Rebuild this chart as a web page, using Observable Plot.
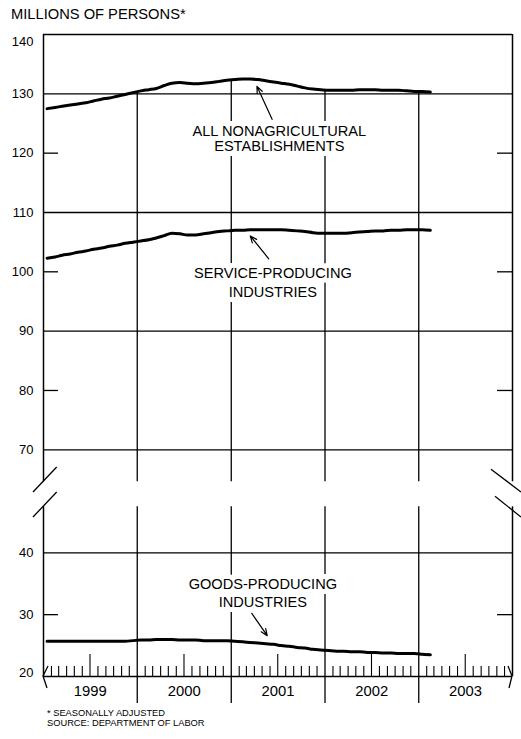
<!DOCTYPE html>
<html><head><meta charset="utf-8">
<script src="https://cdn.jsdelivr.net/npm/d3@7"></script>
<script src="https://cdn.jsdelivr.net/npm/@observablehq/plot@0.6"></script>
<style>
body{margin:0;background:#fff;}
#wrap{position:relative;width:521px;height:739px;font-family:"Liberation Sans",Arial,sans-serif;color:#000;overflow:hidden;}
#title{position:absolute;left:11px;top:7px;font-size:14.7px;line-height:14px;white-space:nowrap;}
#chart{position:absolute;left:0;top:28px;}
#cap{position:absolute;left:47px;top:708px;font-size:9.3px;line-height:10px;white-space:nowrap;}
</style></head><body>
<div id="wrap">
<div id="title">MILLIONS OF PERSONS*</div>
<div id="chart"></div>
<div id="cap">* SEASONALLY ADJUSTED<br>SOURCE: DEPARTMENT OF LABOR</div>
</div>
<script>
// ---- data (monthly, Jan 1999 – Feb 2003, millions of persons) ----
const firstMonth = "1999-01-01";
const lastMonth = "2003-02-01";
const totalNonfarm = [
  127.5,127.7,127.9,128.1,128.3,128.5,128.8,129.1,129.3,129.6,129.9,130.2,
  130.5,130.7,130.9,131.4,131.8,131.9,131.8,131.7,131.8,131.9,132.1,132.3,
  132.4,132.5,132.5,132.4,132.2,132.0,131.8,131.6,131.3,131.0,130.8,130.7,
  130.6,130.6,130.6,130.6,130.7,130.7,130.7,130.6,130.6,130.6,130.5,130.4,
  130.4,130.3];
const serviceProducing = [
  102.3,102.5,102.8,103.0,103.3,103.5,103.8,104.0,104.3,104.5,104.8,105.0,
  105.2,105.4,105.7,106.1,106.5,106.4,106.2,106.2,106.4,106.6,106.8,106.9,
  107.0,107.0,107.1,107.1,107.1,107.1,107.1,107.0,106.9,106.8,106.6,106.5,
  106.5,106.5,106.5,106.6,106.7,106.8,106.9,106.9,107.0,107.0,107.1,107.1,
  107.1,107.0];
const goodsProducing = [
  25.7,25.7,25.7,25.7,25.7,25.7,25.7,25.7,25.7,25.7,25.7,25.8,
  25.9,25.9,26.0,26.0,26.0,25.9,25.9,25.9,25.8,25.8,25.8,25.8,
  25.7,25.6,25.5,25.4,25.3,25.2,25.0,24.9,24.7,24.6,24.4,24.3,
  24.2,24.1,24.1,24.0,24.0,23.9,23.9,23.8,23.8,23.7,23.7,23.7,
  23.6,23.5];
const yearLabels = ["1999","2000","2001","2002","2003"];
const yTicks = [140,130,120,110,100,90,80,70,40,30,20];
const gridFull = [140,130,110,90,70,40];
const gridShort = [120,100,80,30];
const seriesLabels = ["ALL NONAGRICULTURAL\nESTABLISHMENTS","SERVICE-PRODUCING\nINDUSTRIES","GOODS-PRODUCING\nINDUSTRIES"];
const labelDates = ["2001-07-07","2001-06-12","2001-05-04"];
const labelValues = [122.4, 98.35, 33.6];
const arrowFromDates = ["2001-06-09","2001-05-27","2001-03-22"];
const arrowFromValues = [125.7, 102.2, 30.2];
const arrowToDates = ["2001-04-11","2001-03-16","2001-05-21"];
const arrowToValues = [131.26, 106.05, 26.6];

// ---- build tables ----
const D = s => new Date(s + (s.length === 10 ? "T00:00:00Z" : ""));
const months = d3.utcMonth.range(D(firstMonth), d3.utcMonth.offset(D(lastMonth), 1));
const rows = [];
months.forEach((m, i) => {
  const t = d3.utcDay.offset(m, 14);
  rows.push({date: t, series: "total", value: totalNonfarm[i]});
  rows.push({date: t, series: "service", value: serviceProducing[i]});
  rows.push({date: t, series: "goods", value: goodsProducing[i]});
});
const x0 = D(yearLabels[0] + "-01-01");
const x1 = D(String(+yearLabels[yearLabels.length - 1] + 1) + "-01-01");
const yearBounds = yearLabels.slice(1).map(y => D(y + "-01-01"));
const boundaryRows = yearBounds.map((d, k) => {
  const j = (k + 1) * 12;
  return {date: d, top: (totalNonfarm[j - 1] + totalNonfarm[j]) / 2};
});
const yearMid = yearLabels.map(y => ({label: y, date: D(y + "-07-02")}));
const allMonths = d3.utcMonth.range(x0, x1).filter(m => m.getUTCMonth() !== 0);
const minorMonths = allMonths.filter(m => m.getUTCMonth() !== 6);
const julyMonths = allMonths.filter(m => m.getUTCMonth() === 6);
const labelRows = seriesLabels.map((t, i) => ({text: t, date: D(labelDates[i]), value: labelValues[i]}));
const arrowRows = arrowFromDates.map((d, i) => ({xa: D(d), ya: arrowFromValues[i], xb: D(arrowToDates[i]), yb: arrowToValues[i]}));

const BREAK_DOWN = 32, BREAK_UP = 46, BELOW = 27;
const font = "Liberation Sans, Arial, sans-serif";

const breakMarks = (index, {x, y}) => {
  const g = d3.create("svg:g").attr("stroke", "#000").attr("stroke-width", 1.3).attr("fill", "none");
  const xl = x(x0), xr = x(x1);
  const gt = y(70) + BREAK_DOWN, gb = y(40) - BREAK_UP, yb = y(20);
  const segs = [
    [xl - 10, gt + 10.7, xl + 13.7, gt - 14.3],
    [xl - 10, gb + 10.7, xl + 13.7, gb - 14.3],
    [xr - 21, gt - 12, xr + 9, gt + 10.7],
    [xr - 17, gb - 10, xr + 9, gb + 10.7]
  ];
  for (const [a, b, c, d] of segs) g.append("line").attr("x1", a).attr("y1", b).attr("x2", c).attr("y2", d);
  g.append("polyline").attr("points", `${xl + 5},${yb - 10} ${xl},${yb} ${xl + 4},${yb + 12}`);
  g.append("polyline").attr("points", `${xr - 4},${yb - 10} ${xr},${yb} ${xr - 3},${yb + 12}`);
  return g.node();
};

const chart = Plot.plot({
  width: 521, height: 680,
  marginTop: 6, marginBottom: 32, marginLeft: 43, marginRight: 9,
  style: {fontFamily: font, background: "white", overflow: "visible", color: "#000"},
  x: {type: "utc", domain: [x0, x1], axis: null},
  y: {type: "linear", domain: [20, 40, 70, 140], range: [648, 524.3, 421.3, 6], axis: null},
  marks: [
    Plot.ruleY(gridFull, {stroke: "#000", strokeWidth: 1.3}),
    Plot.ruleY(gridShort, {stroke: "#000", strokeWidth: 1.3, insetRight: 454}),
    Plot.ruleY(gridShort, {stroke: "#000", strokeWidth: 1.3, insetLeft: 454}),
    Plot.ruleX([x0, x1], {y1: 140, y2: 70, insetBottom: -BREAK_DOWN, stroke: "#000", strokeWidth: 1.5}),
    Plot.ruleX([x0, x1], {y1: 40, y2: 20, insetTop: -BREAK_UP, stroke: "#000", strokeWidth: 1.5}),
    Plot.ruleX(boundaryRows, {x: "date", y1: "top", y2: 70, insetBottom: -BREAK_DOWN, stroke: "#000", strokeWidth: 1.3}),
    Plot.ruleX(yearBounds, {y1: 40, y2: 20, insetTop: -BREAK_UP, insetBottom: -BELOW, stroke: "#000", strokeWidth: 1.3}),
    Plot.ruleY([20], {stroke: "#000", strokeWidth: 1.5}),
    Plot.ruleX(minorMonths, {y1: 20, y2: 20, insetTop: -10, stroke: "#000", strokeWidth: 1.1}),
    Plot.ruleX(julyMonths, {y1: 20, y2: 20, insetTop: -22, stroke: "#000", strokeWidth: 1.1}),
    Plot.line(rows, {x: "date", y: "value", z: "series", stroke: "#000", strokeWidth: 3, curve: "monotone-x", strokeLinecap: "round", strokeLinejoin: "round"}),
    Plot.text([labelRows[0]], {x: "date", y: "value", text: "text", fontSize: 14.6, lineHeight: 1.0, fill: "#000", stroke: "white", strokeWidth: 10}),
    Plot.text([labelRows[1]], {x: "date", y: "value", text: "text", fontSize: 14.6, lineHeight: 1.25, fill: "#000", stroke: "white", strokeWidth: 10}),
    Plot.text([labelRows[2]], {x: "date", y: "value", text: "text", fontSize: 14.6, lineHeight: 1.2, fill: "#000", stroke: "white", strokeWidth: 10}),
    Plot.arrow(arrowRows, {x1: "xa", y1: "ya", x2: "xb", y2: "yb", stroke: "#000", strokeWidth: 1.2, headLength: 9, headAngle: 45}),
    Plot.text(yTicks.slice(1, -1), {x: x0, y: d => d, text: d => String(d), dx: -10, textAnchor: "end", fontSize: 13, fill: "#000"}),
    Plot.text(yTicks.slice(0, 1), {x: x0, y: d => d, text: d => String(d), dx: -10, dy: 7, textAnchor: "end", fontSize: 13, fill: "#000"}),
    Plot.text(yTicks.slice(-1), {x: x0, y: d => d, text: d => String(d), dx: -10, dy: -4, textAnchor: "end", fontSize: 13, fill: "#000"}),
    Plot.text(yearMid, {x: "date", y: 20, text: "label", dy: 15, fontSize: 14.8, fill: "#000"}),
    breakMarks
  ]
});
document.getElementById("chart").appendChild(chart);
</script>
</body></html>
